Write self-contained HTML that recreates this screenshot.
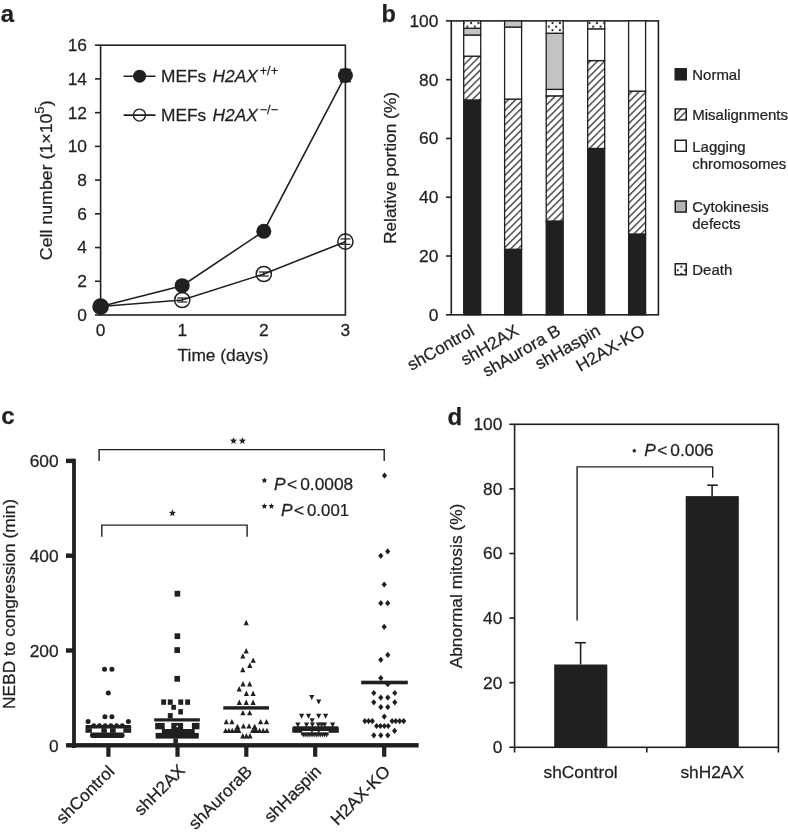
<!DOCTYPE html>
<html><head><meta charset="utf-8"><style>
html,body{margin:0;padding:0;background:#fff;}
svg{display:block;font-family:"Liberation Sans", sans-serif;filter:grayscale(1);}
text{stroke:#231f20;stroke-width:0.25px;}
</style></head><body>
<svg width="788" height="833" viewBox="0 0 788 833">
<defs>
<pattern id="hatch" patternUnits="userSpaceOnUse" width="5.1" height="5.1" patternTransform="rotate(45)">
<rect width="5.1" height="5.1" fill="#fff"/><line x1="1.6" y1="-1" x2="1.6" y2="6.1" stroke="#231f20" stroke-width="1.2"/></pattern>
<pattern id="hatch2" patternUnits="userSpaceOnUse" width="5.1" height="5.1" patternTransform="rotate(45)">
<rect width="5.1" height="5.1" fill="#fff"/><line x1="2.9" y1="-1" x2="2.9" y2="6.1" stroke="#231f20" stroke-width="1.2"/></pattern>
<pattern id="dots2" patternUnits="userSpaceOnUse" x="679.55" y="264.9" width="7.4" height="7.2">
<rect width="7.4" height="7.2" fill="#fff"/><circle cx="1.85" cy="1.8" r="1.1" fill="#231f20"/><circle cx="5.55" cy="5.4" r="1.1" fill="#231f20"/></pattern>
<pattern id="dots" patternUnits="userSpaceOnUse" x="546.9499999999999" y="24.8" width="7.4" height="7.2">
<rect width="7.4" height="7.2" fill="#fff"/><circle cx="1.85" cy="1.8" r="1.1" fill="#231f20"/><circle cx="5.55" cy="5.4" r="1.1" fill="#231f20"/></pattern>
</defs>
<text transform="translate(0.80,21.60)" font-size="24" font-weight="bold" fill="#231f20">a</text>
<rect x="100.60" y="45.20" width="244.80" height="269.80" fill="none" stroke="#231f20" stroke-width="1.6"/>
<line x1="95.00" y1="315.00" x2="100.60" y2="315.00" stroke="#231f20" stroke-width="1.6" stroke-linecap="butt"/>
<text transform="translate(87.00,320.85) scale(1.020,1)" font-size="17.0" text-anchor="end" fill="#231f20">0</text>
<line x1="95.00" y1="281.27" x2="100.60" y2="281.27" stroke="#231f20" stroke-width="1.6" stroke-linecap="butt"/>
<text transform="translate(87.00,287.12) scale(1.020,1)" font-size="17.0" text-anchor="end" fill="#231f20">2</text>
<line x1="95.00" y1="247.55" x2="100.60" y2="247.55" stroke="#231f20" stroke-width="1.6" stroke-linecap="butt"/>
<text transform="translate(87.00,253.40) scale(1.020,1)" font-size="17.0" text-anchor="end" fill="#231f20">4</text>
<line x1="95.00" y1="213.82" x2="100.60" y2="213.82" stroke="#231f20" stroke-width="1.6" stroke-linecap="butt"/>
<text transform="translate(87.00,219.67) scale(1.020,1)" font-size="17.0" text-anchor="end" fill="#231f20">6</text>
<line x1="95.00" y1="180.10" x2="100.60" y2="180.10" stroke="#231f20" stroke-width="1.6" stroke-linecap="butt"/>
<text transform="translate(87.00,185.95) scale(1.020,1)" font-size="17.0" text-anchor="end" fill="#231f20">8</text>
<line x1="95.00" y1="146.38" x2="100.60" y2="146.38" stroke="#231f20" stroke-width="1.6" stroke-linecap="butt"/>
<text transform="translate(87.00,152.22) scale(1.020,1)" font-size="17.0" text-anchor="end" fill="#231f20">10</text>
<line x1="95.00" y1="112.65" x2="100.60" y2="112.65" stroke="#231f20" stroke-width="1.6" stroke-linecap="butt"/>
<text transform="translate(87.00,118.50) scale(1.020,1)" font-size="17.0" text-anchor="end" fill="#231f20">12</text>
<line x1="95.00" y1="78.92" x2="100.60" y2="78.92" stroke="#231f20" stroke-width="1.6" stroke-linecap="butt"/>
<text transform="translate(87.00,84.77) scale(1.020,1)" font-size="17.0" text-anchor="end" fill="#231f20">14</text>
<line x1="95.00" y1="45.20" x2="100.60" y2="45.20" stroke="#231f20" stroke-width="1.6" stroke-linecap="butt"/>
<text transform="translate(87.00,51.05) scale(1.020,1)" font-size="17.0" text-anchor="end" fill="#231f20">16</text>
<text transform="translate(100.60,335.60) scale(1.020,1)" font-size="17.0" text-anchor="middle" fill="#231f20">0</text>
<text transform="translate(182.20,335.60) scale(1.020,1)" font-size="17.0" text-anchor="middle" fill="#231f20">1</text>
<text transform="translate(263.80,335.60) scale(1.020,1)" font-size="17.0" text-anchor="middle" fill="#231f20">2</text>
<text transform="translate(345.40,335.60) scale(1.020,1)" font-size="17.0" text-anchor="middle" fill="#231f20">3</text>
<text transform="translate(223.00,361.20) scale(1.020,1)" font-size="17.0" text-anchor="middle" fill="#231f20">Time (days)</text>
<text transform="translate(51.60,180.30) rotate(-90) scale(1.045,1)" font-size="17.0" text-anchor="middle" fill="#231f20">Cell number (1×10<tspan font-size="12.5" dy="-7.5">5</tspan><tspan dy="7.5">)</tspan></text>
<polyline points="100.60,306.57 182.20,285.66 263.80,231.19 345.40,75.55" fill="none" stroke="#231f20" stroke-width="1.6"/>
<polyline points="100.60,306.57 182.20,299.99 263.80,274.02 345.40,241.65" fill="none" stroke="#231f20" stroke-width="1.6"/>
<circle cx="100.60" cy="306.57" r="7.60" fill="none" stroke="#231f20" stroke-width="1.5"/>
<circle cx="182.20" cy="299.99" r="7.60" fill="none" stroke="#231f20" stroke-width="1.5"/>
<circle cx="263.80" cy="274.02" r="7.60" fill="none" stroke="#231f20" stroke-width="1.5"/>
<circle cx="345.40" cy="241.65" r="7.60" fill="none" stroke="#231f20" stroke-width="1.5"/>
<line x1="182.20" y1="297.97" x2="182.20" y2="302.02" stroke="#231f20" stroke-width="1.2" stroke-linecap="butt"/>
<line x1="177.20" y1="297.97" x2="187.20" y2="297.97" stroke="#231f20" stroke-width="1.2" stroke-linecap="butt"/>
<line x1="177.20" y1="302.02" x2="187.20" y2="302.02" stroke="#231f20" stroke-width="1.2" stroke-linecap="butt"/>
<line x1="263.80" y1="272.00" x2="263.80" y2="276.05" stroke="#231f20" stroke-width="1.2" stroke-linecap="butt"/>
<line x1="258.80" y1="272.00" x2="268.80" y2="272.00" stroke="#231f20" stroke-width="1.2" stroke-linecap="butt"/>
<line x1="258.80" y1="276.05" x2="268.80" y2="276.05" stroke="#231f20" stroke-width="1.2" stroke-linecap="butt"/>
<line x1="345.40" y1="238.95" x2="345.40" y2="244.35" stroke="#231f20" stroke-width="1.2" stroke-linecap="butt"/>
<line x1="340.40" y1="238.95" x2="350.40" y2="238.95" stroke="#231f20" stroke-width="1.2" stroke-linecap="butt"/>
<line x1="340.40" y1="244.35" x2="350.40" y2="244.35" stroke="#231f20" stroke-width="1.2" stroke-linecap="butt"/>
<circle cx="100.60" cy="306.57" r="7.50" fill="#231f20"/>
<circle cx="182.20" cy="285.66" r="7.50" fill="#231f20"/>
<circle cx="263.80" cy="231.19" r="7.50" fill="#231f20"/>
<circle cx="345.40" cy="75.55" r="7.50" fill="#231f20"/>
<rect x="339.90" y="68.75" width="11.00" height="1.40" fill="#231f20"/>
<rect x="339.90" y="80.95" width="11.00" height="1.40" fill="#231f20"/>
<line x1="123.60" y1="76.20" x2="155.50" y2="76.20" stroke="#231f20" stroke-width="1.6" stroke-linecap="butt"/>
<circle cx="139.60" cy="76.20" r="6.50" fill="#231f20"/>
<line x1="123.60" y1="115.10" x2="155.50" y2="115.10" stroke="#231f20" stroke-width="1.6" stroke-linecap="butt"/>
<circle cx="139.50" cy="115.10" r="6.00" fill="none" stroke="#231f20" stroke-width="1.4"/>
<text transform="translate(161.0,81.8) scale(1.02,1)" font-size="17.0" fill="#231f20">MEFs <tspan font-style="italic" dx="1.5">H2AX</tspan><tspan font-size="12.5" dx="1.8" dy="-7.2">+/+</tspan></text>
<text transform="translate(161.0,120.9) scale(1.02,1)" font-size="17.0" fill="#231f20">MEFs <tspan font-style="italic" dx="1.5">H2AX</tspan><tspan font-size="12.5" dx="1.8" dy="-7.2">−/−</tspan></text>
<text transform="translate(381.40,21.70)" font-size="23.5" font-weight="bold" fill="#231f20">b</text>
<rect x="451.30" y="20.90" width="207.10" height="293.90" fill="none" stroke="#231f20" stroke-width="1.6"/>
<line x1="446.00" y1="314.80" x2="451.30" y2="314.80" stroke="#231f20" stroke-width="1.6" stroke-linecap="butt"/>
<text transform="translate(438.30,320.65) scale(1.020,1)" font-size="17.0" text-anchor="end" fill="#231f20">0</text>
<line x1="446.00" y1="256.02" x2="451.30" y2="256.02" stroke="#231f20" stroke-width="1.6" stroke-linecap="butt"/>
<text transform="translate(438.30,261.87) scale(1.020,1)" font-size="17.0" text-anchor="end" fill="#231f20">20</text>
<line x1="446.00" y1="197.24" x2="451.30" y2="197.24" stroke="#231f20" stroke-width="1.6" stroke-linecap="butt"/>
<text transform="translate(438.30,203.09) scale(1.020,1)" font-size="17.0" text-anchor="end" fill="#231f20">40</text>
<line x1="446.00" y1="138.46" x2="451.30" y2="138.46" stroke="#231f20" stroke-width="1.6" stroke-linecap="butt"/>
<text transform="translate(438.30,144.31) scale(1.020,1)" font-size="17.0" text-anchor="end" fill="#231f20">60</text>
<line x1="446.00" y1="79.68" x2="451.30" y2="79.68" stroke="#231f20" stroke-width="1.6" stroke-linecap="butt"/>
<text transform="translate(438.30,85.53) scale(1.020,1)" font-size="17.0" text-anchor="end" fill="#231f20">80</text>
<line x1="446.00" y1="20.90" x2="451.30" y2="20.90" stroke="#231f20" stroke-width="1.6" stroke-linecap="butt"/>
<text transform="translate(438.30,26.75) scale(1.020,1)" font-size="17.0" text-anchor="end" fill="#231f20">100</text>
<rect x="463.70" y="99.96" width="17.0" height="214.84" fill="#231f20" stroke="#231f20" stroke-width="1.3"/>
<rect x="463.70" y="56.17" width="17.0" height="43.79" fill="url(#hatch)" stroke="#231f20" stroke-width="1.3"/>
<rect x="463.70" y="35.01" width="17.0" height="21.16" fill="#fff" stroke="#231f20" stroke-width="1.3"/>
<rect x="463.70" y="28.25" width="17.0" height="6.76" fill="#c3c3c3" stroke="#231f20" stroke-width="1.3"/>
<rect x="463.70" y="20.90" width="17.0" height="7.35" fill="url(#dots)" stroke="#231f20" stroke-width="1.3"/>
<rect x="504.60" y="249.26" width="17.0" height="65.54" fill="#231f20" stroke="#231f20" stroke-width="1.3"/>
<rect x="504.60" y="99.08" width="17.0" height="150.18" fill="url(#hatch)" stroke="#231f20" stroke-width="1.3"/>
<rect x="504.60" y="27.07" width="17.0" height="72.01" fill="#fff" stroke="#231f20" stroke-width="1.3"/>
<rect x="504.60" y="20.90" width="17.0" height="6.17" fill="#c3c3c3" stroke="#231f20" stroke-width="1.3"/>
<rect x="546.20" y="221.05" width="17.0" height="93.75" fill="#231f20" stroke="#231f20" stroke-width="1.3"/>
<rect x="546.20" y="95.84" width="17.0" height="125.20" fill="url(#hatch)" stroke="#231f20" stroke-width="1.3"/>
<rect x="546.20" y="89.38" width="17.0" height="6.47" fill="#fff" stroke="#231f20" stroke-width="1.3"/>
<rect x="546.20" y="33.24" width="17.0" height="56.13" fill="#c3c3c3" stroke="#231f20" stroke-width="1.3"/>
<rect x="546.20" y="20.90" width="17.0" height="12.34" fill="url(#dots)" stroke="#231f20" stroke-width="1.3"/>
<rect x="587.70" y="148.45" width="17.0" height="166.35" fill="#231f20" stroke="#231f20" stroke-width="1.3"/>
<rect x="587.70" y="60.58" width="17.0" height="87.88" fill="url(#hatch)" stroke="#231f20" stroke-width="1.3"/>
<rect x="587.70" y="28.84" width="17.0" height="31.74" fill="#fff" stroke="#231f20" stroke-width="1.3"/>
<rect x="587.70" y="20.90" width="17.0" height="7.94" fill="url(#dots)" stroke="#231f20" stroke-width="1.3"/>
<rect x="628.60" y="233.98" width="17.0" height="80.82" fill="#231f20" stroke="#231f20" stroke-width="1.3"/>
<rect x="628.60" y="91.14" width="17.0" height="142.84" fill="url(#hatch)" stroke="#231f20" stroke-width="1.3"/>
<rect x="628.60" y="20.90" width="17.0" height="70.24" fill="#fff" stroke="#231f20" stroke-width="1.3"/>
<text transform="translate(475.70,334.00) rotate(-30) scale(1.020,1)" font-size="17.0" text-anchor="end" fill="#231f20">shControl</text>
<text transform="translate(520.10,334.00) rotate(-30) scale(1.020,1)" font-size="17.0" text-anchor="end" fill="#231f20">shH2AX</text>
<text transform="translate(561.70,334.00) rotate(-30) scale(1.020,1)" font-size="17.0" text-anchor="end" fill="#231f20">shAurora B</text>
<text transform="translate(601.70,334.00) rotate(-30) scale(1.020,1)" font-size="17.0" text-anchor="end" fill="#231f20">shHaspin</text>
<text transform="translate(646.10,334.00) rotate(-30) scale(1.020,1)" font-size="17.0" text-anchor="end" fill="#231f20">H2AX-KO</text>
<text transform="translate(396.40,168.00) rotate(-90) scale(1.020,1)" font-size="17.0" text-anchor="middle" fill="#231f20">Relative portion (%)</text>
<rect x="675.25" y="68.80" width="11" height="11" fill="#231f20" stroke="#231f20" stroke-width="1.5"/>
<text transform="translate(692.30,79.60) scale(1.055,1)" font-size="14.2" fill="#231f20">Normal</text>
<rect x="675.25" y="108.95" width="11" height="11" fill="url(#hatch2)" stroke="#231f20" stroke-width="1.5"/>
<text transform="translate(692.30,120.20) scale(1.055,1)" font-size="14.2" fill="#231f20">Misalignments</text>
<rect x="675.25" y="140.25" width="11" height="11" fill="#fff" stroke="#231f20" stroke-width="1.5"/>
<text transform="translate(692.30,151.50) scale(1.055,1)" font-size="14.2" fill="#231f20">Lagging</text>
<text transform="translate(692.30,168.90) scale(1.055,1)" font-size="14.2" fill="#231f20">chromosomes</text>
<rect x="675.25" y="201.05" width="11" height="11" fill="#b4b4b4" stroke="#231f20" stroke-width="1.5"/>
<text transform="translate(692.30,212.00) scale(1.055,1)" font-size="14.2" fill="#231f20">Cytokinesis</text>
<text transform="translate(692.30,229.40) scale(1.055,1)" font-size="14.2" fill="#231f20">defects</text>
<rect x="675.25" y="263.75" width="11" height="11" fill="url(#dots2)" stroke="#231f20" stroke-width="1.5"/>
<text transform="translate(692.30,274.60) scale(1.055,1)" font-size="14.2" fill="#231f20">Death</text>
<text transform="translate(1.20,423.90)" font-size="24" font-weight="bold" fill="#231f20">c</text>
<rect x="72.10" y="458.80" width="3.80" height="289.20" fill="#231f20"/>
<rect x="66.00" y="743.10" width="352.70" height="4.40" fill="#231f20"/>
<rect x="66.00" y="648.30" width="8.00" height="4.40" fill="#231f20"/>
<rect x="66.00" y="553.50" width="8.00" height="4.40" fill="#231f20"/>
<rect x="66.00" y="458.70" width="8.00" height="4.40" fill="#231f20"/>
<text transform="translate(58.60,751.65) scale(1.020,1)" font-size="17.0" text-anchor="end" fill="#231f20">0</text>
<text transform="translate(58.60,656.85) scale(1.020,1)" font-size="17.0" text-anchor="end" fill="#231f20">200</text>
<text transform="translate(58.60,562.05) scale(1.020,1)" font-size="17.0" text-anchor="end" fill="#231f20">400</text>
<text transform="translate(58.60,467.25) scale(1.020,1)" font-size="17.0" text-anchor="end" fill="#231f20">600</text>
<rect x="106.30" y="745.00" width="4.20" height="11.80" fill="#231f20"/>
<rect x="175.40" y="745.00" width="4.20" height="11.80" fill="#231f20"/>
<rect x="244.20" y="745.00" width="4.20" height="11.80" fill="#231f20"/>
<rect x="313.10" y="745.00" width="4.20" height="11.80" fill="#231f20"/>
<rect x="382.10" y="745.00" width="4.20" height="11.80" fill="#231f20"/>
<text transform="translate(115.40,772.50) rotate(-45) scale(1.020,1)" font-size="17.0" text-anchor="end" fill="#231f20">shControl</text>
<text transform="translate(186.00,771.50) rotate(-45) scale(1.020,1)" font-size="17.0" text-anchor="end" fill="#231f20">shH2AX</text>
<text transform="translate(253.30,772.50) rotate(-45) scale(1.020,1)" font-size="17.0" text-anchor="end" fill="#231f20">shAuroraB</text>
<text transform="translate(322.20,772.50) rotate(-45) scale(1.020,1)" font-size="17.0" text-anchor="end" fill="#231f20">shHaspin</text>
<text transform="translate(391.20,772.50) rotate(-45) scale(1.020,1)" font-size="17.0" text-anchor="end" fill="#231f20">H2AX-KO</text>
<circle cx="104.50" cy="669.20" r="2.50" fill="#231f20"/>
<circle cx="111.90" cy="669.20" r="2.50" fill="#231f20"/>
<circle cx="108.30" cy="693.10" r="2.50" fill="#231f20"/>
<circle cx="104.90" cy="716.70" r="2.50" fill="#231f20"/>
<circle cx="111.90" cy="716.70" r="2.50" fill="#231f20"/>
<circle cx="88.10" cy="721.40" r="2.50" fill="#231f20"/>
<circle cx="128.40" cy="721.40" r="2.50" fill="#231f20"/>
<circle cx="93.80" cy="725.60" r="2.40" fill="#231f20"/>
<circle cx="99.50" cy="725.60" r="2.40" fill="#231f20"/>
<circle cx="105.20" cy="725.60" r="2.40" fill="#231f20"/>
<circle cx="110.90" cy="725.60" r="2.40" fill="#231f20"/>
<circle cx="116.60" cy="725.60" r="2.40" fill="#231f20"/>
<circle cx="122.30" cy="725.60" r="2.40" fill="#231f20"/>
<rect x="85.50" y="724.90" width="45.70" height="3.70" rx="1.2" fill="#231f20"/>
<rect x="85.50" y="728.20" width="6.40" height="4.60" fill="#231f20"/>
<rect x="101.40" y="728.20" width="5.40" height="4.60" fill="#231f20"/>
<rect x="110.00" y="728.20" width="5.70" height="4.60" fill="#231f20"/>
<rect x="123.30" y="728.20" width="7.90" height="4.60" fill="#231f20"/>
<rect x="90.00" y="732.60" width="34.60" height="5.30" rx="2.5" fill="#231f20"/>
<rect x="174.60" y="590.80" width="5.60" height="5.80" fill="#231f20"/>
<rect x="174.60" y="633.30" width="5.60" height="5.80" fill="#231f20"/>
<rect x="174.40" y="647.20" width="5.60" height="5.80" fill="#231f20"/>
<rect x="174.40" y="675.90" width="5.60" height="5.80" fill="#231f20"/>
<rect x="161.20" y="699.40" width="4.90" height="5.40" fill="#231f20"/>
<rect x="167.80" y="699.40" width="4.90" height="5.40" fill="#231f20"/>
<rect x="178.30" y="699.40" width="4.90" height="5.40" fill="#231f20"/>
<rect x="185.20" y="699.40" width="4.90" height="5.40" fill="#231f20"/>
<rect x="171.30" y="704.80" width="4.60" height="5.00" fill="#231f20"/>
<rect x="178.30" y="709.10" width="4.60" height="5.40" fill="#231f20"/>
<rect x="167.80" y="713.10" width="4.90" height="5.40" fill="#231f20"/>
<rect x="154.20" y="718.30" width="45.70" height="3.20" fill="#231f20"/>
<rect x="155.20" y="722.90" width="9.50" height="6.40" fill="#231f20"/>
<rect x="171.30" y="722.90" width="11.80" height="6.40" fill="#231f20"/>
<rect x="191.90" y="722.90" width="7.60" height="6.40" fill="#231f20"/>
<rect x="161.90" y="729.00" width="32.80" height="4.20" fill="#231f20"/>
<rect x="155.60" y="732.90" width="43.20" height="5.70" fill="#231f20"/>
<rect x="173.40" y="738.40" width="4.50" height="4.80" fill="#231f20"/>
<circle cx="177.20" cy="726.40" r="0.90" fill="#fff"/>
<polygon points="243.60,625.20 248.80,625.20 246.20,619.80" fill="#231f20"/>
<polygon points="243.60,653.50 248.80,653.50 246.20,648.10" fill="#231f20"/>
<polygon points="240.20,658.60 245.40,658.60 242.80,653.20" fill="#231f20"/>
<polygon points="250.60,662.80 255.80,662.80 253.20,657.40" fill="#231f20"/>
<polygon points="247.20,667.90 252.40,667.90 249.80,662.50" fill="#231f20"/>
<polygon points="240.20,672.20 245.40,672.20 242.80,666.80" fill="#231f20"/>
<polygon points="240.40,686.40 245.60,686.40 243.00,681.00" fill="#231f20"/>
<polygon points="247.10,686.40 252.30,686.40 249.70,681.00" fill="#231f20"/>
<polygon points="236.60,691.40 241.80,691.40 239.20,686.00" fill="#231f20"/>
<polygon points="243.80,695.90 249.00,695.90 246.40,690.50" fill="#231f20"/>
<polygon points="250.50,695.90 255.70,695.90 253.10,690.50" fill="#231f20"/>
<polygon points="236.70,705.00 241.90,705.00 239.30,699.60" fill="#231f20"/>
<polygon points="243.60,705.00 248.80,705.00 246.20,699.60" fill="#231f20"/>
<polygon points="250.50,705.00 255.70,705.00 253.10,699.60" fill="#231f20"/>
<polygon points="240.30,715.30 245.50,715.30 242.90,709.90" fill="#231f20"/>
<polygon points="247.10,715.30 252.30,715.30 249.70,709.90" fill="#231f20"/>
<polygon points="223.70,724.30 228.90,724.30 226.30,718.90" fill="#231f20"/>
<polygon points="229.30,724.30 234.50,724.30 231.90,718.90" fill="#231f20"/>
<polygon points="258.00,724.30 263.20,724.30 260.60,718.90" fill="#231f20"/>
<polygon points="263.90,724.30 269.10,724.30 266.50,718.90" fill="#231f20"/>
<polygon points="240.80,728.60 246.00,728.60 243.40,723.20" fill="#231f20"/>
<polygon points="246.40,728.60 251.60,728.60 249.00,723.20" fill="#231f20"/>
<polygon points="234.90,729.10 240.10,729.10 237.50,723.70" fill="#231f20"/>
<polygon points="252.10,729.10 257.30,729.10 254.70,723.70" fill="#231f20"/>
<polygon points="234.90,732.70 240.10,732.70 237.50,727.30" fill="#231f20"/>
<polygon points="252.10,732.70 257.30,732.70 254.70,727.30" fill="#231f20"/>
<polygon points="223.00,733.10 228.20,733.10 225.60,727.70" fill="#231f20"/>
<polygon points="226.30,733.10 231.50,733.10 228.90,727.70" fill="#231f20"/>
<polygon points="229.60,733.10 234.80,733.10 232.20,727.70" fill="#231f20"/>
<polygon points="232.90,733.10 238.10,733.10 235.50,727.70" fill="#231f20"/>
<polygon points="236.20,733.10 241.40,733.10 238.80,727.70" fill="#231f20"/>
<polygon points="250.10,733.10 255.30,733.10 252.70,727.70" fill="#231f20"/>
<polygon points="253.70,733.10 258.90,733.10 256.30,727.70" fill="#231f20"/>
<polygon points="257.00,733.10 262.20,733.10 259.60,727.70" fill="#231f20"/>
<polygon points="260.60,733.10 265.80,733.10 263.20,727.70" fill="#231f20"/>
<polygon points="264.30,733.10 269.50,733.10 266.90,727.70" fill="#231f20"/>
<polygon points="240.20,738.50 245.40,738.50 242.80,733.10" fill="#231f20"/>
<polygon points="243.80,738.50 249.00,738.50 246.40,733.10" fill="#231f20"/>
<polygon points="247.40,738.50 252.60,738.50 250.00,733.10" fill="#231f20"/>
<rect x="223.30" y="706.20" width="45.70" height="3.40" fill="#231f20"/>
<polygon points="309.20,694.90 314.40,694.90 311.80,699.90" fill="#231f20"/>
<polygon points="316.10,699.50 321.30,699.50 318.70,704.50" fill="#231f20"/>
<polygon points="299.00,713.80 304.20,713.80 301.60,718.80" fill="#231f20"/>
<polygon points="305.90,713.80 311.10,713.80 308.50,718.80" fill="#231f20"/>
<polygon points="316.10,713.80 321.30,713.80 318.70,718.80" fill="#231f20"/>
<polygon points="323.00,713.80 328.20,713.80 325.60,718.80" fill="#231f20"/>
<polygon points="309.50,718.20 314.70,718.20 312.10,723.20" fill="#231f20"/>
<polygon points="295.30,722.40 300.50,722.40 297.90,727.40" fill="#231f20"/>
<polygon points="303.90,722.40 309.10,722.40 306.50,727.40" fill="#231f20"/>
<polygon points="309.80,722.40 315.00,722.40 312.40,727.40" fill="#231f20"/>
<polygon points="315.80,722.40 321.00,722.40 318.40,727.40" fill="#231f20"/>
<polygon points="319.00,722.40 324.20,722.40 321.60,727.40" fill="#231f20"/>
<polygon points="322.00,722.40 327.20,722.40 324.60,727.40" fill="#231f20"/>
<polygon points="330.00,722.40 335.20,722.40 332.60,727.40" fill="#231f20"/>
<rect x="292.30" y="726.20" width="46.50" height="4.70" rx="1.5" fill="#231f20"/>
<rect x="292.30" y="730.00" width="9.90" height="2.80" fill="#231f20"/>
<rect x="311.10" y="730.00" width="1.70" height="2.80" fill="#231f20"/>
<rect x="317.70" y="730.00" width="2.00" height="2.80" fill="#231f20"/>
<rect x="328.60" y="730.00" width="10.20" height="2.80" fill="#231f20"/>
<polygon points="301.40,732.70 305.00,732.70 303.20,737.70" fill="#231f20"/>
<polygon points="303.35,732.70 306.95,732.70 305.15,737.70" fill="#231f20"/>
<polygon points="305.30,732.70 308.90,732.70 307.10,737.70" fill="#231f20"/>
<polygon points="307.25,732.70 310.85,732.70 309.05,737.70" fill="#231f20"/>
<polygon points="309.20,732.70 312.80,732.70 311.00,737.70" fill="#231f20"/>
<polygon points="311.15,732.70 314.75,732.70 312.95,737.70" fill="#231f20"/>
<polygon points="313.10,732.70 316.70,732.70 314.90,737.70" fill="#231f20"/>
<polygon points="315.05,732.70 318.65,732.70 316.85,737.70" fill="#231f20"/>
<polygon points="317.00,732.70 320.60,732.70 318.80,737.70" fill="#231f20"/>
<polygon points="318.95,732.70 322.55,732.70 320.75,737.70" fill="#231f20"/>
<polygon points="320.90,732.70 324.50,732.70 322.70,737.70" fill="#231f20"/>
<polygon points="322.85,732.70 326.45,732.70 324.65,737.70" fill="#231f20"/>
<polygon points="324.80,732.70 328.40,732.70 326.60,737.70" fill="#231f20"/>
<rect x="301.20" y="732.50" width="27.40" height="2.80" fill="#231f20"/>
<polygon points="384.50,472.50 387.10,475.60 384.50,478.70 381.90,475.60" fill="#231f20"/>
<polygon points="387.70,548.30 390.30,551.40 387.70,554.50 385.10,551.40" fill="#231f20"/>
<polygon points="380.80,552.70 383.40,555.80 380.80,558.90 378.20,555.80" fill="#231f20"/>
<polygon points="384.20,581.40 386.80,584.50 384.20,587.60 381.60,584.50" fill="#231f20"/>
<polygon points="380.80,600.10 383.40,603.20 380.80,606.30 378.20,603.20" fill="#231f20"/>
<polygon points="387.70,600.10 390.30,603.20 387.70,606.30 385.10,603.20" fill="#231f20"/>
<polygon points="384.20,623.70 386.80,626.80 384.20,629.90 381.60,626.80" fill="#231f20"/>
<polygon points="387.80,651.80 390.40,654.90 387.80,658.00 385.20,654.90" fill="#231f20"/>
<polygon points="380.80,656.70 383.40,659.80 380.80,662.90 378.20,659.80" fill="#231f20"/>
<polygon points="380.80,675.00 383.40,678.10 380.80,681.20 378.20,678.10" fill="#231f20"/>
<polygon points="387.80,681.10 390.40,684.20 387.80,687.30 385.20,684.20" fill="#231f20"/>
<polygon points="373.80,689.90 376.40,693.00 373.80,696.10 371.20,693.00" fill="#231f20"/>
<polygon points="394.80,689.90 397.40,693.00 394.80,696.10 392.20,693.00" fill="#231f20"/>
<polygon points="380.80,694.50 383.40,697.60 380.80,700.70 378.20,697.60" fill="#231f20"/>
<polygon points="387.80,694.50 390.40,697.60 387.80,700.70 385.20,697.60" fill="#231f20"/>
<polygon points="373.80,699.20 376.40,702.30 373.80,705.40 371.20,702.30" fill="#231f20"/>
<polygon points="394.80,699.20 397.40,702.30 394.80,705.40 392.20,702.30" fill="#231f20"/>
<polygon points="380.80,704.00 383.40,707.10 380.80,710.20 378.20,707.10" fill="#231f20"/>
<polygon points="387.80,704.00 390.40,707.10 387.80,710.20 385.20,707.10" fill="#231f20"/>
<polygon points="384.30,713.50 386.90,716.60 384.30,719.70 381.70,716.60" fill="#231f20"/>
<polygon points="364.90,718.00 367.50,721.10 364.90,724.20 362.30,721.10" fill="#231f20"/>
<polygon points="368.60,718.00 371.20,721.10 368.60,724.20 366.00,721.10" fill="#231f20"/>
<polygon points="372.30,718.00 374.90,721.10 372.30,724.20 369.70,721.10" fill="#231f20"/>
<polygon points="392.10,718.00 394.70,721.10 392.10,724.20 389.50,721.10" fill="#231f20"/>
<polygon points="395.80,718.00 398.40,721.10 395.80,724.20 393.20,721.10" fill="#231f20"/>
<polygon points="399.60,718.00 402.20,721.10 399.60,724.20 397.00,721.10" fill="#231f20"/>
<polygon points="403.70,718.00 406.30,721.10 403.70,724.20 401.10,721.10" fill="#231f20"/>
<polygon points="376.60,722.90 379.20,726.00 376.60,729.10 374.00,726.00" fill="#231f20"/>
<polygon points="380.40,722.90 383.00,726.00 380.40,729.10 377.80,726.00" fill="#231f20"/>
<polygon points="384.30,722.90 386.90,726.00 384.30,729.10 381.70,726.00" fill="#231f20"/>
<polygon points="388.20,722.90 390.80,726.00 388.20,729.10 385.60,726.00" fill="#231f20"/>
<polygon points="394.60,727.70 397.20,730.80 394.60,733.90 392.00,730.80" fill="#231f20"/>
<polygon points="373.80,732.20 376.40,735.30 373.80,738.40 371.20,735.30" fill="#231f20"/>
<polygon points="380.80,732.20 383.40,735.30 380.80,738.40 378.20,735.30" fill="#231f20"/>
<polygon points="387.80,732.20 390.40,735.30 387.80,738.40 385.20,735.30" fill="#231f20"/>
<rect x="361.20" y="680.70" width="46.60" height="3.60" fill="#231f20"/>
<text transform="translate(14.90,604.00) rotate(-90) scale(1.020,1)" font-size="17.0" text-anchor="middle" fill="#231f20">NEBD to congression (min)</text>
<polyline points="99.1,460.9 99.1,449.6 384.2,449.6 384.2,460.9" fill="none" stroke="#231f20" stroke-width="1.4"/>
<polyline points="101.8,536.8 101.8,525.1 247.1,525.1 247.1,536.8" fill="none" stroke="#231f20" stroke-width="1.4"/>
<polygon points="233.50,437.15 234.44,439.61 237.07,439.74 235.02,441.39 235.70,443.93 233.50,442.50 231.30,443.93 231.98,441.39 229.93,439.74 232.56,439.61" fill="#231f20"/>
<polygon points="242.40,437.15 243.34,439.61 245.97,439.74 243.92,441.39 244.60,443.93 242.40,442.50 240.20,443.93 240.88,441.39 238.83,439.74 241.46,439.61" fill="#231f20"/>
<polygon points="172.40,509.35 173.34,511.81 175.97,511.94 173.92,513.59 174.60,516.13 172.40,514.70 170.20,516.13 170.88,513.59 168.83,511.94 171.46,511.81" fill="#231f20"/>
<polygon points="264.40,477.50 265.28,479.29 267.25,479.57 265.83,480.96 266.16,482.93 264.40,482.00 262.64,482.93 262.97,480.96 261.55,479.57 263.52,479.29" fill="#231f20"/>
<text transform="translate(274.00,490.10) scale(1.020,1)" font-size="17.0" font-style="italic" fill="#231f20">P</text>
<text transform="translate(287.00,490.10) scale(1.020,1)" font-size="17.0" fill="#231f20">&lt;</text>
<text transform="translate(300.20,490.10) scale(1.020,1)" font-size="17.0" fill="#231f20">0.0008</text>
<polygon points="264.40,503.20 265.28,504.99 267.25,505.27 265.83,506.66 266.16,508.63 264.40,507.70 262.64,508.63 262.97,506.66 261.55,505.27 263.52,504.99" fill="#231f20"/>
<polygon points="271.40,503.20 272.28,504.99 274.25,505.27 272.83,506.66 273.16,508.63 271.40,507.70 269.64,508.63 269.97,506.66 268.55,505.27 270.52,504.99" fill="#231f20"/>
<text transform="translate(281.00,515.50) scale(1.020,1)" font-size="17.0" font-style="italic" fill="#231f20">P</text>
<text transform="translate(294.00,515.50) scale(1.020,1)" font-size="17.0" fill="#231f20">&lt;</text>
<text transform="translate(307.00,515.50) scale(0.990,1)" font-size="17.0" fill="#231f20">0.001</text>
<text transform="translate(447.60,424.60)" font-size="24" font-weight="bold" fill="#231f20">d</text>
<rect x="514.60" y="424.30" width="263.80" height="323.00" fill="none" stroke="#231f20" stroke-width="1.6"/>
<line x1="509.30" y1="747.30" x2="514.60" y2="747.30" stroke="#231f20" stroke-width="1.6" stroke-linecap="butt"/>
<text transform="translate(502.30,753.15) scale(1.020,1)" font-size="17.0" text-anchor="end" fill="#231f20">0</text>
<line x1="509.30" y1="682.70" x2="514.60" y2="682.70" stroke="#231f20" stroke-width="1.6" stroke-linecap="butt"/>
<text transform="translate(502.30,688.55) scale(1.020,1)" font-size="17.0" text-anchor="end" fill="#231f20">20</text>
<line x1="509.30" y1="618.10" x2="514.60" y2="618.10" stroke="#231f20" stroke-width="1.6" stroke-linecap="butt"/>
<text transform="translate(502.30,623.95) scale(1.020,1)" font-size="17.0" text-anchor="end" fill="#231f20">40</text>
<line x1="509.30" y1="553.50" x2="514.60" y2="553.50" stroke="#231f20" stroke-width="1.6" stroke-linecap="butt"/>
<text transform="translate(502.30,559.35) scale(1.020,1)" font-size="17.0" text-anchor="end" fill="#231f20">60</text>
<line x1="509.30" y1="488.90" x2="514.60" y2="488.90" stroke="#231f20" stroke-width="1.6" stroke-linecap="butt"/>
<text transform="translate(502.30,494.75) scale(1.020,1)" font-size="17.0" text-anchor="end" fill="#231f20">80</text>
<line x1="509.30" y1="424.30" x2="514.60" y2="424.30" stroke="#231f20" stroke-width="1.6" stroke-linecap="butt"/>
<text transform="translate(502.30,430.15) scale(1.020,1)" font-size="17.0" text-anchor="end" fill="#231f20">100</text>
<line x1="514.60" y1="747.30" x2="514.60" y2="752.50" stroke="#231f20" stroke-width="1.6" stroke-linecap="butt"/>
<line x1="646.80" y1="747.30" x2="646.80" y2="752.50" stroke="#231f20" stroke-width="1.6" stroke-linecap="butt"/>
<line x1="778.40" y1="747.30" x2="778.40" y2="752.50" stroke="#231f20" stroke-width="1.6" stroke-linecap="butt"/>
<rect x="554.20" y="664.50" width="53.10" height="82.80" fill="#231f20"/>
<rect x="685.70" y="496.10" width="53.10" height="251.20" fill="#231f20"/>
<line x1="580.60" y1="664.50" x2="580.60" y2="642.70" stroke="#231f20" stroke-width="1.6" stroke-linecap="butt"/>
<line x1="574.90" y1="642.70" x2="585.90" y2="642.70" stroke="#231f20" stroke-width="1.6" stroke-linecap="butt"/>
<line x1="712.10" y1="496.10" x2="712.10" y2="485.20" stroke="#231f20" stroke-width="1.6" stroke-linecap="butt"/>
<line x1="707.30" y1="485.20" x2="717.80" y2="485.20" stroke="#231f20" stroke-width="1.6" stroke-linecap="butt"/>
<polyline points="577.1,620.6 577.1,466.9 712.7,466.9 712.7,477.7" fill="none" stroke="#231f20" stroke-width="1.4"/>
<polygon points="634.30,448.20 635.03,449.69 636.68,449.93 635.49,451.09 635.77,452.72 634.30,451.95 632.83,452.72 633.11,451.09 631.92,449.93 633.57,449.69" fill="#231f20"/>
<text transform="translate(644.30,456.00) scale(1.020,1)" font-size="17.0" font-style="italic" fill="#231f20">P</text>
<text transform="translate(657.30,456.00) scale(1.020,1)" font-size="17.0" fill="#231f20">&lt;</text>
<text transform="translate(670.30,456.00) scale(1.020,1)" font-size="17.0" fill="#231f20">0.006</text>
<text transform="translate(580.60,777.70) scale(1.020,1)" font-size="17.0" text-anchor="middle" fill="#231f20">shControl</text>
<text transform="translate(712.20,777.70) scale(1.020,1)" font-size="17.0" text-anchor="middle" fill="#231f20">shH2AX</text>
<text transform="translate(461.60,586.00) rotate(-90) scale(1.020,1)" font-size="17.0" text-anchor="middle" fill="#231f20">Abnormal mitosis (%)</text>
</svg>
</body></html>
